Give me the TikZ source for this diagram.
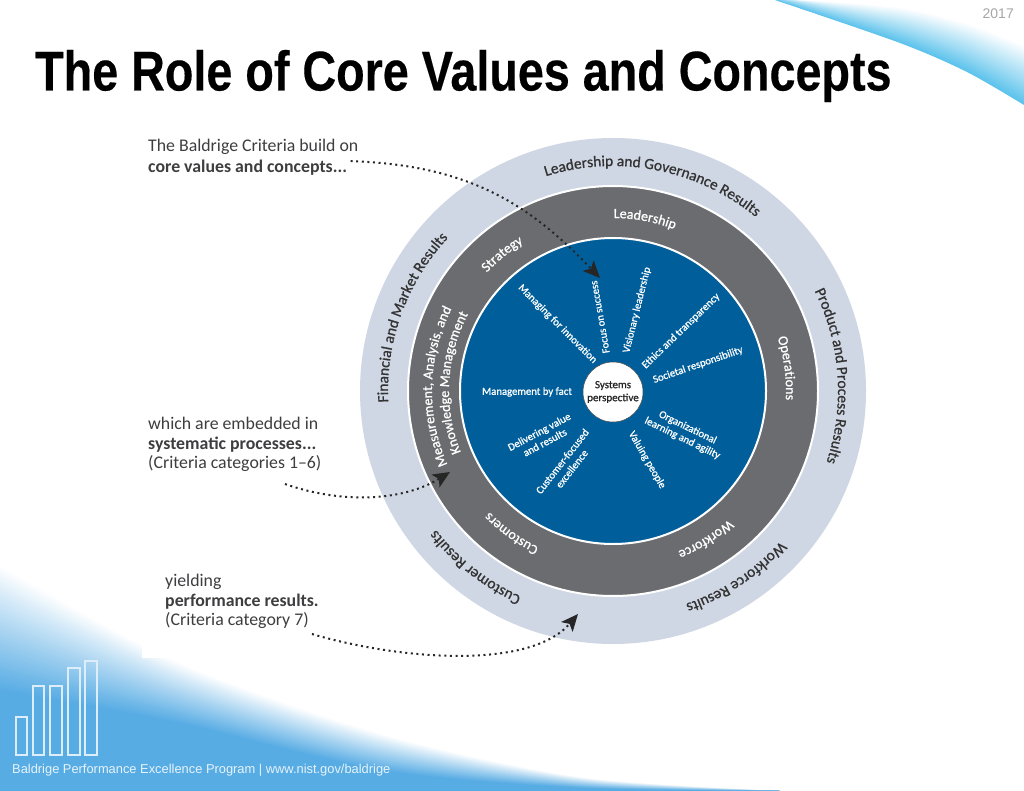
\documentclass[tikz,border=0pt]{standalone}
\usepackage{fontspec}
\setmainfont{Carlito}
\newfontfamily\headfont{Liberation Sans}[BoldFeatures={FakeBold=0.35}]
\newfontfamily\ringfont{Carlito}[FakeBold=0.9]
\usetikzlibrary{arrows.meta,decorations.text}

\definecolor{ringlight}{RGB}{208,215,228}
\definecolor{ringdark}{RGB}{107,108,112}
\definecolor{corefill}{RGB}{0,95,155}
\definecolor{bottomblue}{RGB}{87,172,228}
\definecolor{topblue}{RGB}{93,195,236}
\definecolor{notegray}{RGB}{62,62,64}

\newcommand{\outerfont}{\ringfont\fontsize{15.4}{15.4}\selectfont\color{black!80}}
\newcommand{\middlefont}{\ringfont\fontsize{14}{14}\selectfont\color{white}}

\tikzset{
  ringtext/.style={decorate,decoration={text along path,text align=center,text={#1}}},
  note/.style={anchor=north west,inner sep=0pt,align=left,text=notegray,font=\fontsize{17.8}{19.6}\selectfont},
  value/.style={text=white,inner sep=0pt,align=center,font=\ringfont\fontsize{10.7}{12}\selectfont},
  dotted arrow/.style={line width=2pt,dash pattern=on 2pt off 3.6pt,
    -{Stealth[length=17pt,width=15pt,inset=4pt,black!85]},black!85},
  bar/.style={draw=white!80!bottomblue,line width=1.1pt,fill=none},
}

\begin{document}
\begin{tikzpicture}[x=1pt,y=1pt]
\useasboundingbox (0,-791) rectangle (1024,0);
\fill[white] (0,-791) rectangle (1024,0);

% swoosh, top right
\foreach \k in {40,39,...,0} {
  \pgfmathsetmacro{\t}{\k/40}
  \pgfmathsetmacro{\p}{100*\t}
  \fill[topblue!\p!white] plot[smooth] coordinates {
      ({775+25*(1-\t)},0)
      ({900},{-8-35*\t})
      ({967},{-24-48*\t})
      ({1024},{-46-59*\t})} -- (1024,0) -- cycle;
}

% swoosh, bottom left
\foreach \k in {0,1,...,40} {
  \pgfmathsetmacro{\t}{\k/40}
  \pgfmathsetmacro{\p}{100*\t}
  \fill[bottomblue!\p!white] plot[smooth] coordinates {
      ({0},{-563-127*\t})
      ({175},{-660-62*\t})
      ({380},{-733-37*\t})
      ({580},{-777-11*\t})
      ({780},{-791})} -- (0,-791) -- cycle;
}

\fill[white] (142,-658) rectangle (880,-110);

\node[inner sep=0pt,anchor=west,text=black,xscale=0.834] (heading) at (35,-76)
  {\headfont\fontsize{56}{56}\selectfont\bfseries The Role of Core Values and Concepts};
\node[inner sep=0pt,anchor=east,text=black!35] (year) at (1014,-14)
  {\headfont\fontsize{14}{14}\selectfont 2017};

% rings
\coordinate (centre) at (613,-391);
\fill[ringlight] (centre) circle (253);
\filldraw[fill=ringdark,draw=white,line width=2pt] (centre) circle (205);
\filldraw[fill=corefill,draw=white,line width=2pt] (centre) circle (153);
\node[circle,fill=white,draw=black!70,line width=0.5pt,minimum size=60pt,inner sep=0pt,
  align=center,font=\ringfont\fontsize{11}{13}\selectfont,text=black!85] (systems) at (613,-392)
  {Systems\\perspective};

\path[ringtext={|\outerfont|Leadership and Governance Results}] (centre) ++(117:225) arc[start angle=117,end angle=41,radius=225];
\path[ringtext={|\outerfont|Product and Process Results}] (centre) ++(36:225) arc[start angle=36,end angle=-28,radius=225];
\path[ringtext={|\outerfont|Workforce Results}] (centre) ++(-32:225) arc[start angle=-32,end angle=-81,radius=225];
\path[ringtext={|\outerfont|Customer Results}] (centre) ++(256:225) arc[start angle=256,end angle=208,radius=225];
\path[ringtext={|\outerfont|Financial and Market Results}] (centre) ++(193:225) arc[start angle=193,end angle=127,radius=225];

\path[ringtext={|\middlefont|Leadership}] (centre) ++(100:173) arc[start angle=100,end angle=59,radius=173];
\path[ringtext={|\middlefont|Strategy}] (centre) ++(148:173) arc[start angle=148,end angle=110,radius=173];
\path[ringtext={|\middlefont|Operations}] (centre) ++(28:173) arc[start angle=28,end angle=-13,radius=173];
\path[ringtext={|\middlefont|Customers}] (centre) ++(254:173) arc[start angle=254,end angle=215,radius=173];
\path[ringtext={|\middlefont|Workforce}] (centre) ++(-38:173) arc[start angle=-38,end angle=-78,radius=173];
\path[ringtext={|\middlefont|Measurement, Analysis, and}] (centre) ++(213:181) arc[start angle=213,end angle=144,radius=181];
\path[ringtext={|\middlefont|Knowledge Management}] (centre) ++(211:164) arc[start angle=211,end angle=143,radius=164];

% core values
\node[value,rotate=-45] (innovation) at (557.5,-324) {Managing for innovation};
\node[value,rotate=100] (success) at (600,-317) {Focus on success};
\node[value,rotate=76] (visionary) at (637,-310) {Visionary leadership};
\node[value,rotate=44] (ethics) at (681,-331) {Ethics and transparency};
\node[value,rotate=19] (societal) at (698,-365) {Societal responsibility};
\node[value] (fact) at (527,-392) {Management by fact};
\node[value,rotate=28] (delivering) at (542,-437) {Delivering value\\and results};
\node[value,rotate=52] (customer) at (567,-465) {Customer-focused\\excellence};
\node[value,rotate=-60] (valuing) at (647,-460) {Valuing people};
\node[value,rotate=-26] (learning) at (685,-433) {Organizational\\learning and agility};

% notes on the left
\node[note] (corenote) at (148,-139) {The Baldrige Criteria build on\\[1pt]\textbf{core values and concepts...}};
\node[note] (systematicnote) at (148,-417) {which are embedded in\\\textbf{systematic processes...}\\(Criteria categories 1--6)};
\node[note] (resultsnote) at (165,-574) {yielding\\\textbf{performance results.}\\(Criteria category 7)};

\coordinate (coretip) at (600,-278);
\coordinate (systematicstart) at (285,-484);
\coordinate (systematictip) at (450,-472);
\coordinate (resultsstart) at (312,-634);
\coordinate (resultstip) at (578,-614);

\draw[dotted arrow] (corenote.south east) ++(-8,14) .. controls (470,-165) and (530,-205) .. (coretip);
\draw[dotted arrow] (systematicstart) .. controls (345,-505) and (405,-500) .. (systematictip);
\draw[dotted arrow] (resultsstart) .. controls (400,-660) and (530,-670) .. (resultstip);

% bars of the logo
\draw[bar] (16,-755) rectangle (27,-717);
\draw[bar] (33,-755) rectangle (44,-686);
\draw[bar] (50,-755) rectangle (62,-686);
\draw[bar] (68,-755) rectangle (80,-668);
\draw[bar] (85,-755) rectangle (97,-661);

\node[inner sep=0pt,anchor=west,text=white!85!bottomblue] (footer) at (12,-770)
  {\headfont\fontsize{12.87}{12.87}\selectfont Baldrige Performance Excellence Program | www.nist.gov/baldrige};
\end{tikzpicture}
\end{document}
